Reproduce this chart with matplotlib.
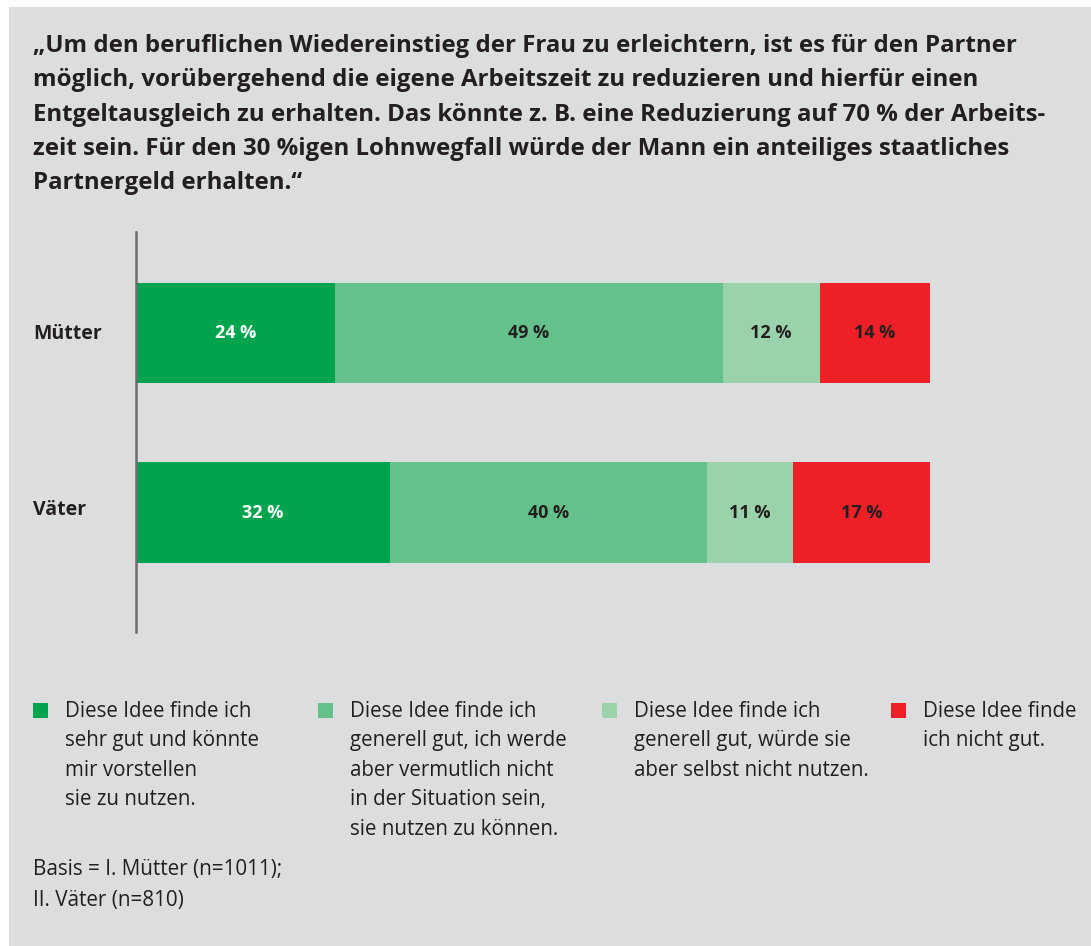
import numpy as np
import matplotlib.pyplot as plt
from matplotlib.patches import Rectangle

# Data
groups = ["Mütter", "Väter"]
shares_muetter = [25.0, 48.9, 12.2, 13.9]   # segment widths as drawn
shares_vaeter = [32.0, 39.9, 10.8, 17.3]
labels_muetter = ["24 %", "49 %", "12 %", "14 %"]
labels_vaeter = ["32 %", "40 %", "11 %", "17 %"]
answers = [
    "Diese Idee finde ich\nsehr gut und könnte\nmir vorstellen\nsie zu nutzen.",
    "Diese Idee finde ich\ngenerell gut, ich werde\naber vermutlich nicht\nin der Situation sein,\nsie nutzen zu können.",
    "Diese Idee finde ich\ngenerell gut, würde sie\naber selbst nicht nutzen.",
    "Diese Idee finde\nich nicht gut.",
]
colors = ["#00a34e", "#64c18c", "#9ad2ab", "#ee1f27"]
label_colors = ["white", "#231f20", "#231f20", "#231f20"]

title = ("„Um den beruflichen Wiedereinstieg der Frau zu erleichtern, ist es für den Partner\n"
         "möglich, vorübergehend die eigene Arbeitszeit zu reduzieren und hierfür einen\n"
         "Entgeltausgleich zu erhalten. Das könnte z. B. eine Reduzierung auf 70 % der Arbeits-\n"
         "zeit sein. Für den 30 %igen Lohnwegfall würde der Mann ein anteiliges staatliches\n"
         "Partnergeld erhalten.“")
basis = "Basis = I. Mütter (n=1011);\nII. Väter (n=810)"

W, H = 1091, 946
bg = "#dcdddf"
txt = "#231f20"
plt.rcParams['font.family'] = ['Open Sans', 'DejaVu Sans']

fig = plt.figure(figsize=(W / 100, H / 100), dpi=100, facecolor="white")
fig.patches.append(Rectangle((9 / W, 0), 1 - 9 / W, 1 - 7 / H, transform=fig.transFigure,
                             facecolor=bg, edgecolor="none", zorder=-1))

def fx(px):
    return px / W

def fy(py):
    return 1 - py / H

fig.text(fx(33), fy(34), title, ha="left", va="top", fontsize=17.3, fontweight="bold",
         color=txt, linespacing=1.57)

# bar chart area
ax = fig.add_axes([fx(136), fy(632), fx(930) - fx(136), (632 - 232) / H])
ax.set_facecolor("none")
ypos = np.arange(len(groups))
ax.set_xlim(0, 100)
ax.set_ylim(1 + 0.665, -0.564)
for i, (shares, labs) in enumerate([(shares_muetter, labels_muetter), (shares_vaeter, labels_vaeter)]):
    left = 0
    for j, (v, lab) in enumerate(zip(shares, labs)):
        ax.barh(ypos[i], v, left=left, height=0.56, color=colors[j], edgecolor="none")
        ax.text(left + v / 2, ypos[i], lab, ha="center", va="center", fontsize=13,
                fontweight="bold", color=label_colors[j])
        left += v
for s in ["top", "right", "bottom"]:
    ax.spines[s].set_visible(False)
ax.spines["left"].set_color("#6d6e70")
ax.spines["left"].set_linewidth(1.8)
ax.set_xticks([])
ax.set_yticks([])
for i, g in enumerate(groups):
    fig.text(fx(33), fy([334, 510][i]), g, ha="left", va="center", fontsize=14,
             fontweight="bold", color=txt)

# legend
sq_x = [33, 318, 602, 891]
for j, a in enumerate(answers):
    fig.patches.append(Rectangle((fx(sq_x[j]), fy(718)), 15 / W, 15 / H, transform=fig.transFigure,
                                 facecolor=colors[j], edgecolor="none"))
    fig.text(fx(sq_x[j] + 32), fy(701), a, ha="left", va="top", fontsize=14.8,
             color=txt, linespacing=1.53)

fig.text(fx(33), fy(859), basis, ha="left", va="top", fontsize=14.9, color=txt, linespacing=1.6)

fig.savefig("out.png", dpi=100, facecolor="white")
